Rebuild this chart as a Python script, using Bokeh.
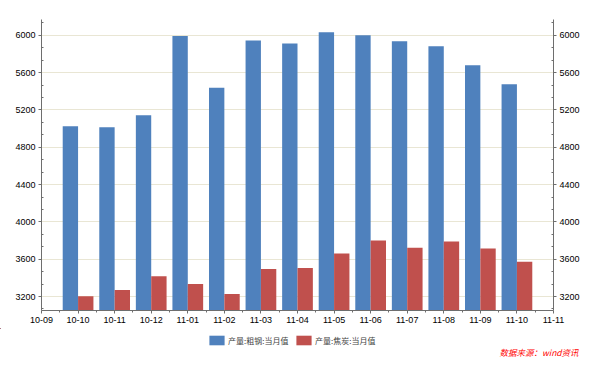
from bokeh.plotting import figure
from bokeh.models import (ColumnDataSource, FixedTicker, LinearAxis, Legend,
                          LegendItem, Range1d, Label)
from bokeh.transform import dodge
from bokeh.embed import file_html
from bokeh.resources import INLINE

# ---- data ----
months = ["10-09", "10-10", "10-11", "10-12", "11-01", "11-02", "11-03", "11-04",
          "11-05", "11-06", "11-07", "11-08", "11-09", "11-10", "11-11"]
bar_months = ["10-10", "10-11", "10-12", "11-01", "11-02", "11-03", "11-04",
              "11-05", "11-06", "11-07", "11-08", "11-09", "11-10"]
steel = [5025, 5014, 5143, 5993, 5439, 5946, 5914, 6032, 6000, 5936, 5882, 5679, 5475]
coke = [3203, 3271, 3418, 3335, 3228, 3496, 3507, 3660, 3800, 3724, 3789, 3714, 3574]
y_ticks = [3200, 3600, 4000, 4400, 4800, 5200, 5600, 6000]
series_names = ["产量:粗钢:当月值", "产量:焦炭:当月值"]
colors = ["#4f81bd", "#c0504d"]
source_note = "数据来源：wind资讯"

src = ColumnDataSource(dict(
    x=[months.index(m) for m in bar_months],
    steel=steel,
    coke=coke,
))

p = figure(output_backend="svg", toolbar_location=None,
           frame_width=512, frame_height=291,
           x_range=Range1d(0, len(months) - 1), y_range=Range1d(3050, 6170),
           min_border_left=41, min_border_right=38, min_border_top=19,
           min_border_bottom=18, background_fill_color="white",
           border_fill_color="white")
p.outline_line_color = None

w = 0.42
r1 = p.vbar(x=dodge("x", -w / 2, range=p.x_range), top="steel", bottom=0, width=w,
            source=src, fill_color=colors[0], line_color=None)
r2 = p.vbar(x=dodge("x", w / 2, range=p.x_range), top="coke", bottom=0, width=w,
            source=src, fill_color=colors[1], line_color=None)

axis_color = "#6e6e6e"
tick_font = "Liberation Sans"

# x axis
xa = p.xaxis[0]
xa.ticker = FixedTicker(ticks=list(range(len(months))),
                        minor_ticks=[i + 0.5 for i in range(len(months) - 1)])
xa.major_label_overrides = {i: m for i, m in enumerate(months)}
xa.axis_line_color = axis_color
xa.major_tick_line_color = axis_color
xa.minor_tick_line_color = axis_color
xa.major_tick_out = 3
xa.major_tick_in = 0
xa.minor_tick_out = 2
xa.minor_tick_in = 0
xa.major_label_standoff = 3
xa.major_label_text_font = tick_font
xa.major_label_text_font_size = "9px"
xa.major_label_text_color = "black"

# left y axis
ya = p.yaxis[0]
ya.ticker = FixedTicker(ticks=y_ticks,
                        minor_ticks=[t + k * 400 / 3 for t in [2800] + y_ticks for k in (1, 2)])
# right y axis
yr = LinearAxis(ticker=ya.ticker)
p.add_layout(yr, "right")
for a in (ya, yr):
    a.axis_line_color = axis_color
    a.major_tick_line_color = axis_color
    a.minor_tick_line_color = axis_color
    a.major_tick_out = 3
    a.major_tick_in = 0
    a.minor_tick_out = 0
    a.minor_tick_in = 2
    a.major_label_standoff = 3
    a.major_label_text_font = tick_font
    a.major_label_text_font_size = "9px"
    a.major_label_text_color = "black"

p.xgrid.grid_line_color = None
p.ygrid.grid_line_color = "#e9e6d4"
p.ygrid.grid_line_width = 1
p.ygrid.ticker = FixedTicker(ticks=y_ticks)

# ---- legend / source strip below the chart (separate root, full-width frame) ----
p2 = figure(output_backend="svg", toolbar_location=None,
            width=591, height=38, x_range=Range1d(1000, 1591), y_range=Range1d(-1000, -962),
            x_axis_location=None, y_axis_location=None,
            min_border=0, background_fill_color="white", border_fill_color="white")
p2.outline_line_color = None
p2.xgrid.grid_line_color = None
p2.ygrid.grid_line_color = None
# same series with zero-width bars (invisible here): only their legend swatches show
l1 = p2.vbar(x="x", top="steel", bottom=0, width=0, source=src,
             fill_color=colors[0], line_color=None)
l2 = p2.vbar(x="x", top="coke", bottom=0, width=0, source=src,
             fill_color=colors[1], line_color=None)

legend_style = dict(orientation="horizontal", glyph_width=19, glyph_height=12,
                    label_standoff=2, padding=2, margin=0, border_line_color=None,
                    background_fill_alpha=0, label_text_font="Noto Sans CJK SC",
                    label_text_font_size="8px", label_height=12)
leg1 = Legend(items=[LegendItem(label=series_names[0], renderers=[l1])],
              location=(207, 20), **legend_style)
leg2 = Legend(items=[LegendItem(label=series_names[1], renderers=[l2])],
              location=(294, 20), **legend_style)
p2.add_layout(leg1)
p2.add_layout(leg2)

wm = Label(x=499, y=15, x_units="screen", y_units="screen", text=source_note,
           text_color="red", text_font="Noto Sans CJK SC", text_font_size="8.5px",
           text_font_style="italic", text_baseline="middle")
p2.add_layout(wm)

open("out.html", "w").write(file_html([p, p2], INLINE))
